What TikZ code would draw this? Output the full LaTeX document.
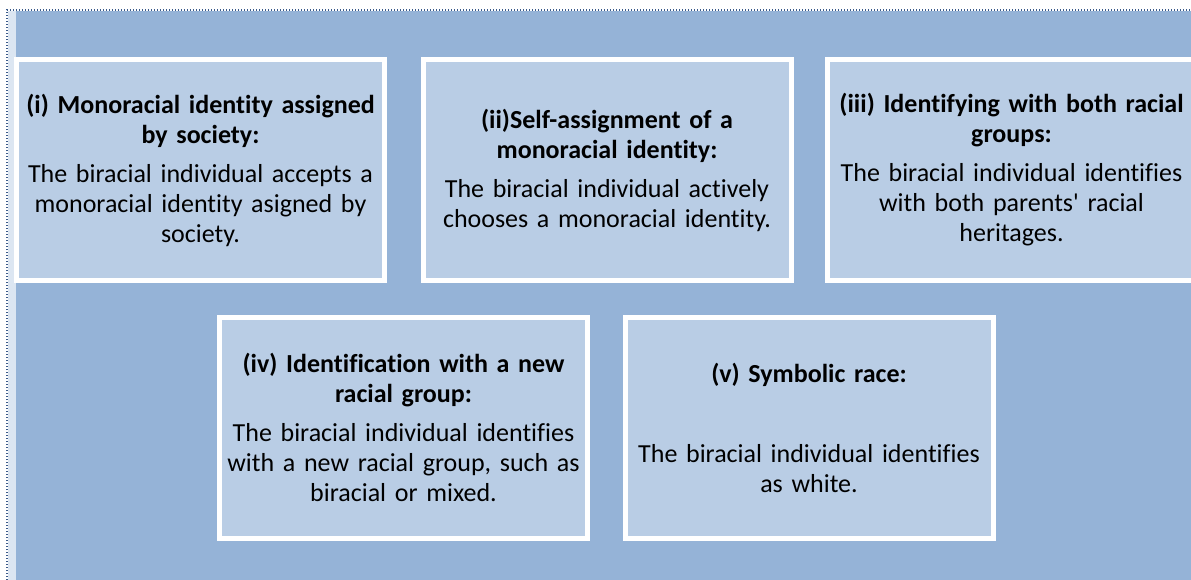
\documentclass[tikz,border=0pt]{standalone}
\usepackage{fontspec}
\setmainfont[WordSpace=0.75, Ligatures=NoCommon]{Carlito}
\definecolor{bgblue}{HTML}{95B3D7}
\definecolor{boxblue}{HTML}{B9CDE5}
\definecolor{stripblue}{HTML}{DCE6F2}
\definecolor{frameline}{HTML}{3A5A8A}
\tikzset{
  idbox/.style={rectangle, draw=white, line width=5pt, fill=boxblue,
    minimum width=368pt, minimum height=221pt, inner sep=0pt,
    align=center, text width=366pt,
    font=\fontsize{26}{30}\selectfont},
}
\newcommand{\boxtitle}[2][9pt]{{\bfseries #2}\\[#1]}
\begin{document}
\begin{tikzpicture}[x=1pt,y=-1pt]
\useasboundingbox (0,0) rectangle (1191,580);
\begin{scope}
\clip (0,0) rectangle (1191,580);
% panel background and its pale left strip
\fill[bgblue] (16,11) rectangle (1191,580);
\fill[stripblue] (8,11) rectangle (16,580);
\draw[frameline, line width=1.3pt, dash pattern=on 1.4pt off 1.6pt] (7,580) -- (7,10) -- (1191,10);
% top row
\node[idbox] (b1) at (200.5,170) {\boxtitle{(i) Monoracial identity assigned\\by society:}The biracial individual accepts a\\monoracial identity asigned by\\society.};
\node[idbox] (b2) at (607,170) {\boxtitle{(ii)Self-assignment of a\\monoracial identity:}The biracial individual actively\\chooses a monoracial identity.};
\node[idbox] (b3) at (1011.5,170) {\boxtitle{(iii) Identifying with both racial\\groups:}The biracial individual identifies\\with both parents\textquotesingle{} racial\\heritages.};
% bottom row
\node[idbox] (b4) at (403.5,427.5) {\boxtitle{(iv) Identification with a new\\racial group:}The biracial individual identifies\\with a new racial group, such as\\biracial or mixed.};
\node[idbox] (b5) at (809,427.5) {\boxtitle[50pt]{(v) Symbolic race:}The biracial individual identifies\\as white.};
\end{scope}
\end{tikzpicture}
\end{document}
